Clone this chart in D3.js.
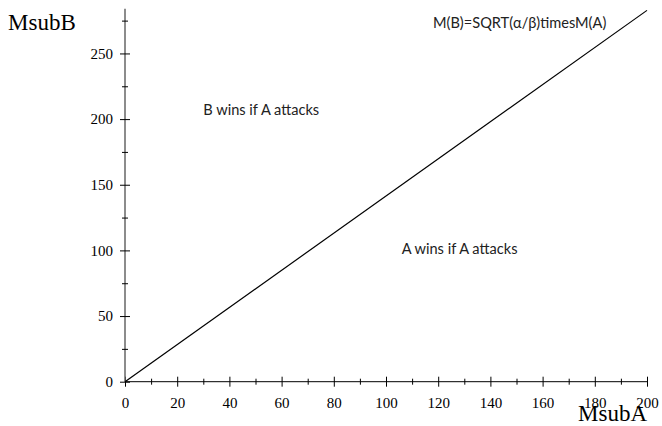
<!DOCTYPE html>
<html>
<head>
<meta charset="utf-8">
<script src="https://cdn.jsdelivr.net/npm/d3@7"></script>
<style>
  body { margin: 0; background: #fff; }
  .tick text { font-family: "Liberation Serif", serif; font-size: 15px; fill: #000; }
  .note { font-family: Lato, "Open Sans", sans-serif; font-size: 14.6px; fill: #222; }
  .title { font-family: "Liberation Serif", serif; font-size: 23px; fill: #000; }
</style>
</head>
<body>
<script>
// line data: M(B) = sqrt(alpha/beta) * M(A)
const massA = [0, 200];
const massB = [0, 282.8];

const xMajor = [0, 20, 40, 60, 80, 100, 120, 140, 160, 180, 200];
const xMinor = [10, 30, 50, 70, 90, 110, 130, 150, 170, 190];
const yMajor = [0, 50, 100, 150, 200, 250];
const yMinor = [25, 75, 125, 175, 225, 275];

const notes = [
  { text: "B wins if A attacks", x: 30, y: 203 },
  { text: "A wins if A attacks", x: 106, y: 97 },
  { text: "M(B)=SQRT(\u03b1/\u03b2)timesM(A)", x: 118, y: 269 }
];

const width = 662, height = 426;

const svg = d3.select("body").append("svg")
  .attr("width", width)
  .attr("height", height);

const x = d3.scaleLinear().domain([0, 200]).range([125, 647]);
const y = d3.scaleLinear().domain([0, 284]).range([381.7, 8.8]);

// x axis
const gx = svg.append("g").attr("transform", `translate(0,${y(0)})`);
gx.call(d3.axisBottom(x).tickValues(xMajor).tickSize(5).tickPadding(11).tickFormat(d3.format("d")));
gx.append("g").call(d3.axisBottom(x).tickValues(xMinor).tickSize(3).tickFormat(""))
  .select(".domain").remove();
gx.selectAll(".tick line").attr("y1", function () { return -d3.select(this).attr("y2"); });
gx.select(".domain").attr("stroke", "#000").attr("d", `M${x(0)},0H${x(200)}`);

// y axis
const gy = svg.append("g").attr("transform", `translate(${x(0)},0)`);
gy.call(d3.axisLeft(y).tickValues(yMajor).tickSize(5).tickPadding(7).tickFormat(d3.format("d")));
gy.append("g").call(d3.axisLeft(y).tickValues(yMinor).tickSize(3).tickFormat(""))
  .select(".domain").remove();
gy.selectAll(".tick line").attr("x1", function () { return -d3.select(this).attr("x2"); });
gy.select(".domain").attr("stroke", "#666").attr("stroke-width", 1.5).attr("d", `M0,${y(0)}V${y(284)}`);

// line
const line = d3.line().x(d => x(d[0])).y(d => y(d[1]));
svg.append("path")
  .datum(d3.zip(massA, massB))
  .attr("d", line)
  .attr("fill", "none")
  .attr("stroke", "#000")
  .attr("stroke-width", 1.2);

// annotations
svg.selectAll(".note").data(notes).join("text")
  .attr("class", "note")
  .attr("x", d => x(d.x))
  .attr("y", d => y(d.y))
  .text(d => d.text);

svg.append("text").attr("class", "title").attr("x", 8).attr("y", 30).text("MsubB");
svg.append("text").attr("class", "title").attr("x", 647).attr("y", 421).attr("text-anchor", "end").text("MsubA");
</script>
</body>
</html>
